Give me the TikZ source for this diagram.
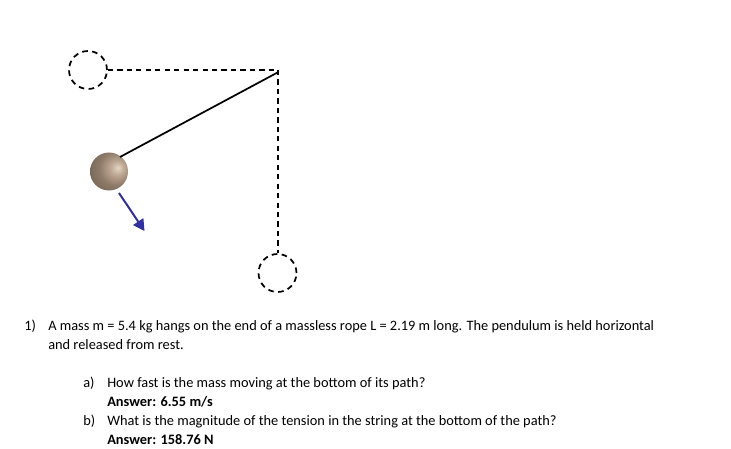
\documentclass[tikz,border=0pt]{standalone}
\usepackage{fontspec}
\setmainfont{Carlito}
\usetikzlibrary{arrows.meta}
\definecolor{arrowblue}{RGB}{48,48,160}
\pgfdeclareradialshading{ballshade}{\pgfpoint{12bp}{5bp}}{%
  rgb(0bp)=(0.90,0.84,0.77);
  rgb(9bp)=(0.74,0.66,0.58);
  rgb(22bp)=(0.56,0.48,0.41);
  rgb(36bp)=(0.47,0.40,0.33);
  rgb(50bp)=(0.58,0.51,0.44);
  rgb(100bp)=(0.58,0.51,0.44)}
\begin{document}
\begin{tikzpicture}[x=0.75pt,y=-0.75pt,
  dashline/.style={draw=black,line width=1.5pt,dash pattern=on 3.9pt off 3.2pt},
  dashcircle/.style={circle,draw=black,line width=1.3pt,dash pattern=on 4.2pt off 3.3pt,minimum size=28.5pt,inner sep=0pt},
  para/.style={anchor=base west,inner sep=0pt,font=\fontsize{10.78pt}{12pt}\selectfont}]
\useasboundingbox (0,0) rectangle (731,449);
\fill[white] (0,0) rectangle (731,449);
\coordinate (pivot) at (278.5,72);
\coordinate (corner) at (277.5,70);
\node[dashcircle] (top) at (88,70) {};
\node[dashcircle] (bottom) at (277.5,273) {};
\node[circle,minimum size=28.5pt,inner sep=0pt,shading=ballshade] (mass) at (109,171.5) {};
\draw[dashline] (top.east |- corner) -- (corner);
\draw[dashline] (corner) -- (bottom.north);
\draw[black,line width=1.3pt] (pivot) -- (120,157);
\coordinate (vs) at (119,193);
\coordinate (ve) at (144.5,231);
\draw[arrowblue,line width=1.5pt,-{Triangle[length=8.5pt,width=9pt]}] (vs) -- (ve);
\node[para] (n1) at (24,330) {1)};
\node[para] (t1) at (48,330) {A mass m = 5.4 kg hangs on the end of a massless rope L = 2.19 m long. The pendulum is held horizontal};
\node[para] (t2) at (48,349) {and released from rest.};
\node[para] (na) at (83,387) {a)};
\node[para] (ta) at (107,387) {How fast is the mass moving at the bottom of its path?};
\node[para] (aa) at (107,406) {\bfseries Answer: 6.55 m/s};
\node[para] (nb) at (83,425) {b)};
\node[para] (tb) at (107,425) {What is the magnitude of the tension in the string at the bottom of the path?};
\node[para] (ab) at (107,444) {\bfseries Answer: 158.76 N};
\end{tikzpicture}
\end{document}
